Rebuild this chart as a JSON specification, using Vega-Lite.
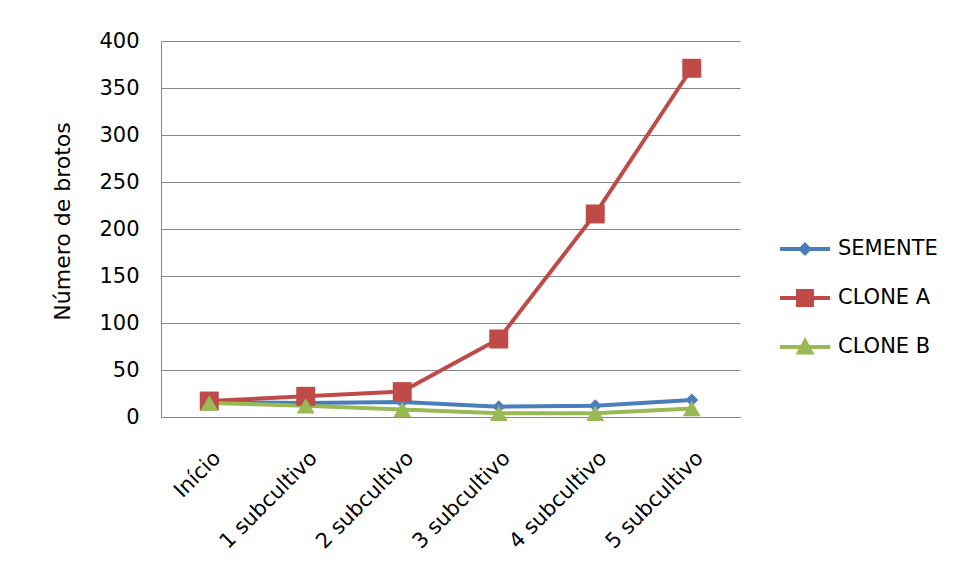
{
  "$schema": "https://vega.github.io/schema/vega-lite/v6.json",
  "autosize": {"type": "none"},
  "width": 579,
  "height": 376,
  "padding": {"left": 161, "top": 41, "right": 219, "bottom": 165},
  "background": "white",
  "config": {
    "font": "DejaVu Sans",
    "view": {"stroke": null},
    "axis": {"labelFont": "DejaVu Sans", "titleFont": "DejaVu Sans", "labelColor": "black", "titleColor": "black"}
  },
  "data": {
    "values": [
      {"etapa": "Início", "serie": "SEMENTE", "valor": 16},
      {"etapa": "1 subcultivo", "serie": "SEMENTE", "valor": 15},
      {"etapa": "2 subcultivo", "serie": "SEMENTE", "valor": 16},
      {"etapa": "3 subcultivo", "serie": "SEMENTE", "valor": 11},
      {"etapa": "4 subcultivo", "serie": "SEMENTE", "valor": 12},
      {"etapa": "5 subcultivo", "serie": "SEMENTE", "valor": 18},
      {"etapa": "Início", "serie": "CLONE A", "valor": 17},
      {"etapa": "1 subcultivo", "serie": "CLONE A", "valor": 22},
      {"etapa": "2 subcultivo", "serie": "CLONE A", "valor": 27},
      {"etapa": "3 subcultivo", "serie": "CLONE A", "valor": 83},
      {"etapa": "4 subcultivo", "serie": "CLONE A", "valor": 216},
      {"etapa": "5 subcultivo", "serie": "CLONE A", "valor": 371},
      {"etapa": "Início", "serie": "CLONE B", "valor": 15},
      {"etapa": "1 subcultivo", "serie": "CLONE B", "valor": 12},
      {"etapa": "2 subcultivo", "serie": "CLONE B", "valor": 8},
      {"etapa": "3 subcultivo", "serie": "CLONE B", "valor": 4},
      {"etapa": "4 subcultivo", "serie": "CLONE B", "valor": 4},
      {"etapa": "5 subcultivo", "serie": "CLONE B", "valor": 9}
    ]
  },
  "encoding": {
    "x": {
      "field": "etapa", "type": "ordinal",
      "sort": ["Início", "1 subcultivo", "2 subcultivo", "3 subcultivo", "4 subcultivo", "5 subcultivo"],
      "scale": {"type": "point", "padding": 0.5},
      "axis": {"title": null, "labelAngle": -45, "labelFontSize": 21, "labelPadding": 30, "ticks": false, "domainColor": "#868686", "grid": false}
    },
    "y": {
      "field": "valor", "type": "quantitative",
      "scale": {"domain": [0, 400]},
      "axis": {"title": "Número de brotos", "values": [0,50,100,150,200,250,300,350,400], "labelFontSize": 21, "titleFontSize": 22, "titleFontWeight": "normal", "ticks": false, "labelPadding": 22, "titlePadding": 24, "titleY": 180, "domainColor": "#868686", "gridColor": "#868686", "gridOpacity": 1}
    },
    "color": {
      "field": "serie", "type": "nominal",
      "sort": ["SEMENTE", "CLONE A", "CLONE B"],
      "scale": {"domain": ["SEMENTE", "CLONE A", "CLONE B"], "range": ["#4a7ebb", "#be4b48", "#98b954"]},
      "legend": {
        "title": null, "orient": "none", "legendX": 619, "legendY": 183,
        "labelFontSize": 21, "labelFont": "DejaVu Sans", "labelColor": "black",
        "rowPadding": 14, "labelOffset": 8, "symbolSize": 2500,
        "encode": {
          "symbols": {
            "update": {
              "size": {"value": 2500},
              "strokeWidth": {"value": 0},
              "fill": {"scale": "color", "field": "value"},
              "opacity": {"value": 1},
              "shape": {"signal": "datum.value === 'SEMENTE' ? 'M-1,-0.08H1V0.08H-1Z M0,-0.28L0.28,0L0,0.28L-0.28,0Z' : datum.value === 'CLONE A' ? 'M-1,-0.08H1V0.08H-1Z M-0.36,-0.36H0.36V0.36H-0.36Z' : 'M-1,-0.08H1V0.08H-1Z M0,-0.4L0.38,0.3H-0.38Z'"}
            }
          }
        }
      }
    }
  },
  "layer": [
    {"mark": {"type": "line", "strokeWidth": 4}},
    {"transform": [{"filter": "datum.serie === 'SEMENTE'"}], "mark": {"type": "point", "filled": true, "opacity": 1, "shape": "diamond", "size": 170}},
    {"transform": [{"filter": "datum.serie === 'CLONE A'"}], "mark": {"type": "point", "filled": true, "opacity": 1, "shape": "square", "size": 360}},
    {"transform": [{"filter": "datum.serie === 'CLONE B'"}], "mark": {"type": "point", "filled": true, "opacity": 1, "shape": "triangle-up", "size": 320}}
  ]
}
